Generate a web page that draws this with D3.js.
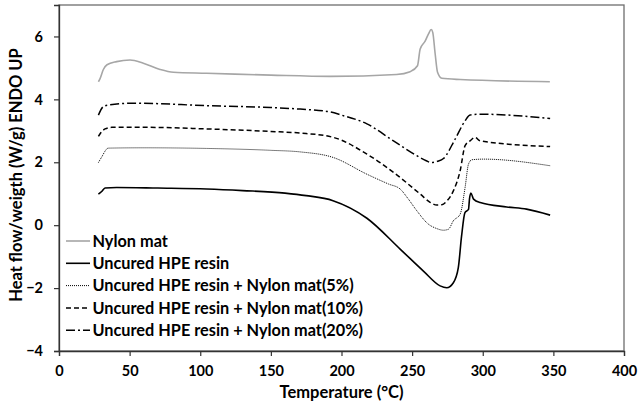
<!DOCTYPE html>
<html>
<head>
<meta charset="utf-8">
<script src="https://d3js.org/d3.v7.min.js"></script>
<style>
  body { margin: 0; background: #fff; font-family: Lato, 'Open Sans', sans-serif; }
  svg text { font-weight: bold; fill: #000; }
</style>
</head>
<body>
<div id="chart"></div>
<script>
// DSC curves: [temperature (°C), heat flow (W/g)]
var nylonMat = [[27.9,4.56],[29,4.65],[31.4,4.95],[34,5.1],[40.8,5.2],[50.3,5.25],[59.7,5.15],[71.5,4.95],[81,4.86],[104.6,4.83],[150,4.77],[192,4.73],[239,4.79],[248.6,4.88],[253.8,5.07],[255.7,5.6],[259.2,5.85],[261.6,6.08],[263.5,6.22],[264.6,6.13],[266.3,5.45],[268,4.86],[271,4.67],[284,4.63],[347.5,4.56]];
var uncuredResin = [[27.9,0.99],[30.2,1.07],[32.6,1.18],[40.8,1.2],[70,1.18],[104.6,1.15],[130,1.1],[160,1.02],[175,0.94],[194,0.78],[218,0.22],[241.5,-0.76],[258,-1.46],[269.8,-1.93],[274.5,-1.99],[279.2,-1.83],[282.7,-1.35],[285,-0.35],[287.4,0.4],[289.9,0.5],[290.6,0.83],[291.6,1.02],[293.5,0.83],[298.2,0.72],[317,0.58],[331,0.51],[347.7,0.32]];
var resinNylon5 = [[27.9,1.99],[30,2.15],[34.9,2.45],[60,2.46],[104.6,2.44],[150,2.38],[170.7,2.33],[194.3,2.15],[218,1.62],[233.2,1.31],[241.5,1.15],[247,0.85],[253.3,0.46],[261.6,0.03],[267,-0.1],[272.2,-0.16],[275.7,-0.13],[279.2,0.14],[284,0.35],[287.5,1.2],[289.9,1.94],[292.3,2.08],[300.5,2.1],[347.7,1.89]];
var resinNylon10 = [[27.9,2.82],[29,2.9],[32.6,3.06],[37.3,3.11],[64.4,3.11],[104.6,3.06],[150,2.98],[170.7,2.93],[194.3,2.79],[218,2.26],[236.8,1.68],[255.7,0.99],[263,0.72],[267.5,0.64],[271,0.65],[274.6,0.77],[279.2,1.09],[284,1.73],[287.5,2.53],[291,2.68],[294.6,2.79],[298.2,2.68],[347.7,2.5]];
var resinNylon20 = [[27.9,3.5],[31.4,3.77],[35,3.82],[52.6,3.88],[104.6,3.8],[150,3.74],[170.7,3.69],[192,3.6],[200,3.5],[218,3.22],[236.8,2.68],[253.3,2.21],[260,2.05],[263.9,1.99],[268,2.03],[272.2,2.12],[280.5,2.74],[287.5,3.32],[291,3.5],[298,3.53],[347.7,3.39]];

var seriesNames = ["Nylon mat", "Uncured HPE resin", "Uncured HPE resin + Nylon mat(5%)",
                   "Uncured HPE resin + Nylon mat(10%)", "Uncured HPE resin + Nylon mat(20%)"];
var xTicks = [0, 50, 100, 150, 200, 250, 300, 350, 400];
var yTicks = [-4, -2, 0, 2, 4, 6];

var series = [
  { name: seriesNames[0], data: nylonMat,     color: "#a6a6a6", width: 1.6, dash: null },
  { name: seriesNames[1], data: uncuredResin, color: "#000",    width: 1.6, dash: null },
  { name: seriesNames[2], data: resinNylon5,  color: "#000",    width: 1,   dash: "1,1" },
  { name: seriesNames[3], data: resinNylon10, color: "#000",    width: 1.5, dash: "5,3" },
  { name: seriesNames[4], data: resinNylon20, color: "#000",    width: 1.5, dash: "9,3,2,3" }
];

var W = 638, H = 409;
var margin = { top: 5, right: 14, bottom: 58, left: 59 };
var width = W - margin.left - margin.right,
    height = H - margin.top - margin.bottom;

var svg = d3.select("#chart").append("svg")
    .attr("width", W).attr("height", H);
var g = svg.append("g")
    .attr("transform", "translate(" + margin.left + "," + margin.top + ")");

var x = d3.scaleLinear().domain([0, 400]).range([0, width]);
var y = d3.scaleLinear().domain([-4, 7]).range([height, 0]);

// plot border
g.append("rect")
    .attr("width", width).attr("height", height)
    .attr("fill", "none").attr("stroke", "#6e6e6e").attr("stroke-width", 1.3);

var xAxis = g.append("g")
    .attr("transform", "translate(0," + height + ")")
    .call(d3.axisBottom(x).tickValues(xTicks).tickSize(5).tickPadding(10));
var yAxis = g.append("g")
    .call(d3.axisLeft(y).tickValues(yTicks).tickSize(5).tickPadding(11));
[xAxis, yAxis].forEach(function (a) {
  a.select(".domain").attr("stroke", "#333").attr("stroke-width", 1.3);
  a.selectAll(".tick line").attr("stroke", "#333").attr("stroke-width", 1.2);
  a.selectAll(".tick text").style("font-size", "14.5px").style("font-family", "Lato, sans-serif");
});

svg.append("text")
    .attr("x", margin.left + width / 2)
    .attr("y", 398)
    .attr("text-anchor", "middle")
    .style("font-size", "16.5px")
    .text("Temperature (°C)");

svg.append("text")
    .attr("transform", "translate(22," + (margin.top + height / 2 - 3) + ") rotate(-90)")
    .attr("text-anchor", "middle")
    .style("font-size", "16.5px")
    .text("Heat flow/weigth (W/g) ENDO UP");

var line = d3.line()
    .x(function (d) { return x(d[0]); })
    .y(function (d) { return y(d[1]); })
    .curve(d3.curveMonotoneX);

g.selectAll(".series")
    .data(series)
    .enter().append("path")
    .attr("class", "series")
    .attr("d", function (d) { return line(d.data); })
    .attr("fill", "none")
    .attr("stroke", function (d) { return d.color; })
    .attr("stroke-width", function (d) { return d.width; })
    .attr("stroke-dasharray", function (d) { return d.dash; });

// legend
var legend = svg.append("g").attr("transform", "translate(66,241)");
var rows = legend.selectAll("g")
    .data(series)
    .enter().append("g")
    .attr("transform", function (d, i) { return "translate(0," + (i * 22.3) + ")"; });
rows.append("line")
    .attr("x1", 0).attr("x2", 24)
    .attr("stroke", function (d) { return d.color; })
    .attr("stroke-width", function (d) { return d.width; })
    .attr("stroke-dasharray", function (d) { return d.dash; });
rows.append("text")
    .attr("x", 26.5)
    .attr("dy", "0.36em")
    .style("font-size", "16.3px")
    .text(function (d) { return d.name; });
</script>
</body>
</html>
